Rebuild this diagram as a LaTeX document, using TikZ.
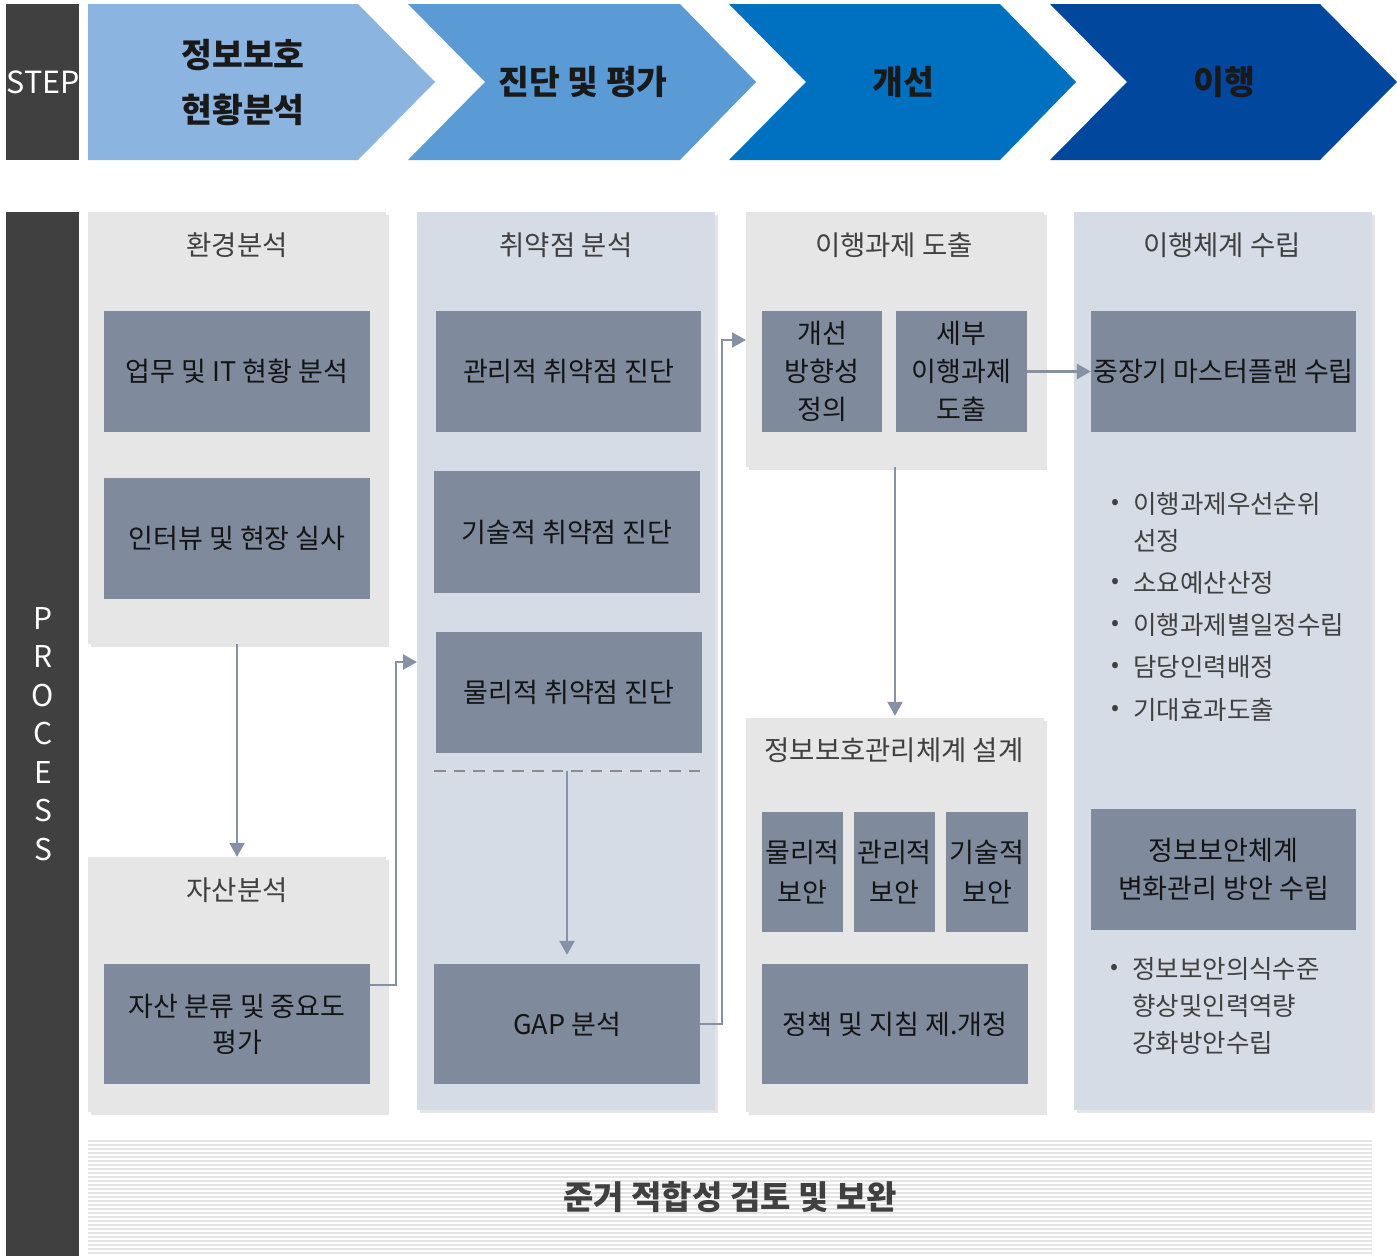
\documentclass[tikz,border=0pt]{standalone}
\usepackage{fontspec}
\setmainfont{Noto Sans CJK KR}
\usetikzlibrary{arrows.meta,shadows}
\definecolor{darkbar}{HTML}{404040}
\definecolor{chA}{HTML}{8BB4E0}
\definecolor{chB}{HTML}{5B9BD5}
\definecolor{chC}{HTML}{0070C0}
\definecolor{chD}{HTML}{00479D}
\definecolor{pgray}{HTML}{E6E6E6}
\definecolor{pblue}{HTML}{D6DCE5}
\definecolor{boxc}{HTML}{7F8A9C}
\definecolor{arrc}{HTML}{8591A5}
\definecolor{titlec}{HTML}{404040}
\definecolor{stripec}{HTML}{E4E4E4}
\definecolor{dashc}{HTML}{8C8C8C}
\begin{document}
\begin{tikzpicture}[x=1pt,y=-1pt,
  panel/.style={inner sep=0pt, minimum width=298pt, drop shadow={shadow xshift=3pt, shadow yshift=-3pt, opacity=0.10, fill=black}},
  graypanel/.style={panel, fill=pgray},
  bluepanel/.style={panel, fill=pblue},
  inbox/.style={fill=boxc, inner sep=0pt, align=center, text=black!92, font=\fontsize{27}{38}\selectfont},
  ptitle/.style={text=titlec, font=\fontsize{27.5}{30}\selectfont},
  chtext/.style={text=black!90, align=center, font=\fontsize{33.5}{55}\selectfont\bfseries},
  btxt/.style={text=titlec, anchor=west, inner sep=0pt, font=\fontsize{25.5}{30}\selectfont},
  bdot/.style={text=titlec, inner sep=0pt, font=\fontsize{23.5}{30}\selectfont},
  arr/.style={draw=arrc, line width=2.5pt, -{Triangle[length=14pt,width=15pt]}},
]
\useasboundingbox (0,0) rectangle (1397,1256);

% STEP bar
\fill[darkbar] (6,4) rectangle (79,160);
\node[text=white, font=\fontsize{30.5}{38}\selectfont] (steplbl) at (43,82) {STEP};

% chevrons
\fill[chA] (88,4) -- (358,4) -- (435,82) -- (358,160) -- (88,160) -- cycle;
\fill[chB] (408,4) -- (680,4) -- (756,82) -- (680,160) -- (408,160) -- (485,82) -- cycle;
\fill[chC] (729,4) -- (1000,4) -- (1076,82) -- (1000,160) -- (729,160) -- (806,82) -- cycle;
\fill[chD] (1050,4) -- (1320,4) -- (1397,82) -- (1320,160) -- (1050,160) -- (1127,82) -- cycle;
\node[chtext] (s1) at (243,82.5) {정보보호\\현황분석};
\node[chtext] (s2) at (583,82) {진단 및 평가};
\node[chtext] (s3) at (903,82) {개선};
\node[chtext] (s4) at (1224,82) {이행};

% PROCESS bar
\fill[darkbar] (6,212) rectangle (79,1256);
\node[text=white, align=center, font=\fontsize{30}{38.5}\selectfont] (proclbl) at (43,734) {P\\R\\O\\C\\E\\S\\S};

% panels
\node[graypanel, minimum height=432pt] (p1) at (237,428) {};
\node[graypanel, minimum height=255pt] (p2) at (237,984.5) {};
\node[bluepanel, minimum height=898pt] (q) at (566,661) {};
\node[graypanel, minimum height=255pt] (p3) at (895,339.5) {};
\node[graypanel, minimum height=394pt] (p4) at (895,915) {};
\node[bluepanel, minimum height=898pt] (r) at (1223,661) {};

% panel titles
\node[ptitle] (t1) at (237,245) {환경분석};
\node[ptitle] (t2) at (237,890) {자산분석};
\node[ptitle] (t3) at (566,245) {취약점 분석};
\node[ptitle] (t4) at (894,245) {이행과제 도출};
\node[ptitle] (t5) at (894,750) {정보보호관리체계 설계};
\node[ptitle] (t6) at (1222,245) {이행체계 수립};

% inner boxes column 1
\node[inbox, minimum width=266pt, minimum height=121pt] (b1) at (237,371.5) {업무 및 IT 현황 분석};
\node[inbox, minimum width=266pt, minimum height=121pt] (b2) at (237,538.5) {인터뷰 및 현장 실사};
\node[inbox, minimum width=266pt, minimum height=120pt, font=\fontsize{27}{36}\selectfont] (b3) at (237,1024) {자산 분류 및 중요도\\평가};

% column 2
\node[inbox, minimum width=265pt, minimum height=121pt] (c1) at (568.5,371.5) {관리적 취약점 진단};
\node[inbox, minimum width=266pt, minimum height=122pt] (c2) at (567,532) {기술적 취약점 진단};
\node[inbox, minimum width=266pt, minimum height=121pt] (c3) at (569,692.5) {물리적 취약점 진단};
\node[inbox, minimum width=266pt, minimum height=120pt] (c4) at (567,1024) {GAP 분석};
\coordinate (dl) at (434,771);
\coordinate (dr) at (700,771);
\coordinate (dm) at (567,771);
\draw[dashc, line width=2.5pt, dash pattern=on 11.6pt off 8pt] (dl) -- (dr);

% column 3
\node[inbox, minimum width=120pt, minimum height=121pt] (d1) at (822,371.5) {개선\\방향성\\정의};
\node[inbox, minimum width=131pt, minimum height=121pt] (d2) at (961.5,371.5) {세부\\이행과제\\도출};
\node[inbox, minimum width=81pt, minimum height=120pt, font=\fontsize{27}{40}\selectfont] (d3) at (802.5,872) {물리적\\보안};
\node[inbox, minimum width=81pt, minimum height=120pt, font=\fontsize{27}{40}\selectfont] (d4) at (894.5,872) {관리적\\보안};
\node[inbox, minimum width=82pt, minimum height=120pt, font=\fontsize{27}{40}\selectfont] (d5) at (987,872) {기술적\\보안};
\node[inbox, minimum width=266pt, minimum height=120pt] (d6) at (895,1024) {정책 및 지침 제.개정};

% column 4
\node[inbox, minimum width=265pt, minimum height=121pt] (e1) at (1223.5,371.5) {중장기 마스터플랜 수립};
\node[inbox, minimum width=265pt, minimum height=121pt] (e2) at (1223.5,869.5) {정보보안체계\\변화관리 방안 수립};

% bullets
\node[bdot] (u1) at (1115,504) {•};
\node[btxt] (v1a) at (1133,504) {이행과제우선순위};
\node[btxt] (v1b) at (1133,541) {선정};
\node[bdot] (u2) at (1115,583) {•};
\node[btxt] (v2) at (1133,583) {소요예산산정};
\node[bdot] (u3) at (1115,625) {•};
\node[btxt] (v3) at (1133,625) {이행과제별일정수립};
\node[bdot] (u4) at (1115,667) {•};
\node[btxt] (v4) at (1133,667) {담당인력배정};
\node[bdot] (u5) at (1115,710) {•};
\node[btxt] (v5) at (1133,710) {기대효과도출};
\node[bdot] (u6) at (1114,969) {•};
\node[btxt] (v6a) at (1132,969) {정보보안의식수준};
\node[btxt] (v6b) at (1132,1006) {향상및인력역량};
\node[btxt] (v6c) at (1132,1043) {강화방안수립};

% connectors
\coordinate (j2) at (417,662);
\coordinate (j4) at (746,340);
\draw[arr] (p1.south) -- (p2.north);
\draw[arr] ([yshift=39pt]b3.east) -- ++(26,0) |- (j2);
\draw[arr, shorten >=9pt] (dm) -- (c4.north);
\draw[arr] (c4.east) -- ++(22,0) |- (j4);
\draw[arr] (d2.east) -- (e1.west);
\draw[arr, shorten >=2pt] (p3.south) -- (p4.north);

% bottom band
\foreach \i in {0,...,28} {
  \fill[stripec] (88,{1140+4*\i}) rectangle (1372,{1142+4*\i});
}
\node[text=titlec, font=\fontsize{33}{36}\selectfont\bfseries] (bottom) at (730,1197) {준거 적합성 검토 및 보완};
\end{tikzpicture}
\end{document}
